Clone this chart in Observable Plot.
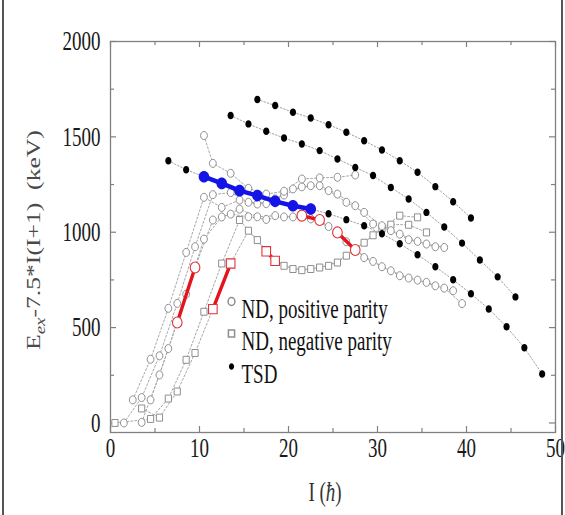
<!DOCTYPE html>
<html><head><meta charset="utf-8">
<script src="https://cdn.jsdelivr.net/npm/d3@7"></script>
<script src="https://cdn.jsdelivr.net/npm/@observablehq/plot@0.6"></script>
<style>
html,body{margin:0;padding:0;background:#fff;}
#wrap{position:relative;width:565px;height:515px;overflow:hidden;background:#fff;}
.edge{position:absolute;top:0;width:2px;height:515px;background:#555;}
</style></head><body>
<div id="wrap"></div>
<script>
// ---------------- data (I in hbar, E in keV) ----------------
const xMajor = [0, 10, 20, 30, 40, 50];
const xMinor = [5, 15, 25, 35, 45];
const yMajor = [0, 500, 1000, 1500, 2000];
const yMinor = [250, 750, 1250, 1750];

// ND positive parity bands (open circles)
const ndPos1 = [[1.5,0],[3.5,133],[5.5,352],[7.5,627],[9.5,924],[11.5,1197],[13.5,1208],[15.5,1157],[17.5,1150],[19.5,1195],[21.5,1238],[23.5,1244],[25.5,1200],[27.5,1139],[29.5,1043],[31.5,1008],[33.5,961],[35.5,938],[37.5,920]];
const ndPos2 = [[2.5,121],[4.5,334],[6.5,601],[8.5,894],[10.5,1183],[12.5,1130],[14.5,1169],[16.5,1148],[18.5,1175],[20.5,1227],[22.5,1244],[24.5,1218],[26.5,1157],[28.5,1104],[30.5,1034],[32.5,990],[34.5,952],[36.5,924]];
const ndPos3 = [[3.5,3],[5.5,252],[7.5,527],[9.5,815],[11.5,1064],[13.5,1095],[15.5,1081],[17.5,1067],[19.5,1080],[21.5,1087],[23.5,1064],[25.5,999],[27.5,907],[29.5,847],[31.5,798],[33.5,760],[35.5,737],[37.5,707],[39.5,626]];
const ndPos4 = [[4.5,121],[6.5,390],[8.5,675],[10.5,964],[12.5,1080],[14.5,1121],[16.5,1081],[18.5,1087],[20.5,1080],[22.5,1070],[24.5,1030],[26.5,950],[28.5,867],[30.5,819],[32.5,772],[34.5,749],[36.5,719],[38.5,693]];
const ndPos5 = [[10.5,1507],[11.5,1361],[13.5,1309],[15.5,1230],[17.5,1200],[19.5,1215],[21.5,1279],[23.5,1285],[25.5,1288],[27.5,1300]];

// ND negative parity bands (open squares)
const ndNeg1 = [[0.5,0],[4.5,21],[6.5,128],[8.5,331],[10.5,583],[12.5,836],[14.5,1064],[16.5,959],[18.5,850],[20.5,807],[22.5,807],[24.5,824],[26.5,877],[28.5,945],[30.5,1020],[32.5,1087],[34.5,1078]];
const ndNeg2 = [[3.5,76],[5.5,28],[7.5,165],[9.5,367],[11.5,597],[13.5,836],[15.5,1008],[17.5,900],[19.5,824],[21.5,801],[23.5,815],[25.5,841],[27.5,911],[29.5,984],[31.5,1040],[33.5,1039],[35.5,999]];

// TSD bands (filled)
const tsd1I = [6.5,8.5,10.5,12.5,14.5,16.5,18.5,20.5,22.5,24.5,26.5,28.5,30.5,32.5,34.5,36.5,38.5,40.5,42.5,44.5,46.5,48.5];
const tsd1E = [1375,1328,1291,1256,1218,1192,1162,1139,1122,1097,1066,1034,992,940,882,819,751,677,598,504,394,257];
const tsd2I = [13.5,15.5,17.5,19.5,21.5,23.5,25.5,27.5,29.5,31.5,33.5,35.5,37.5,39.5,41.5,43.5,45.5];
const tsd2E = [1612,1568,1529,1494,1463,1428,1384,1340,1297,1235,1174,1104,1027,943,854,766,661];
const tsd3I = [16.5,18.5,20.5,22.5,24.5,26.5,28.5,30.5,32.5,34.5,36.5,38.5,40.5];
const tsd3E = [1696,1664,1629,1599,1564,1524,1480,1431,1375,1314,1239,1160,1075];
const blueRange = [10.5, 22.5];   // part of TSD1 drawn in blue

// highlighted ND states (red), consecutive pairs are linked
const redCircles = [[7.5,527],[9.5,815],[21.5,1087],[23.5,1064],[25.5,999],[27.5,907]];
const redSquares = [[11.5,597],[13.5,836],[17.5,900],[18.5,850]];

const legendLabels = ["ND, positive parity", "ND, negative parity", "TSD"];
const yLabelText = "E_ex-7.5*I(I+1) (keV)";
const xLabelText = "I (ħ)";

// ---------------- tables ----------------
const rows = (arr, band) => arr.map(([I, E]) => ({I, E, band}));
const posRows = [ndPos1, ndPos2, ndPos3, ndPos4, ndPos5].flatMap((a, i) => rows(a, "p" + i));
const negRows = [ndNeg1, ndNeg2].flatMap((a, i) => rows(a, "n" + i));
const tsdRows = [[tsd1I, tsd1E], [tsd2I, tsd2E], [tsd3I, tsd3E]]
  .flatMap(([Is, Es], k) => Is.map((I, i) => ({I, E: Es[i], band: "t" + k})));
const blueRows = tsd1I.map((I, i) => ({I, E: tsd1E[i]})).filter(d => d.I >= blueRange[0] && d.I <= blueRange[1]);
const redLinkRows = [...redCircles.map((p, i) => ({I: p[0], E: p[1], pair: "c" + Math.floor(i / 2)})),
                     ...redSquares.map((p, i) => ({I: p[0], E: p[1], pair: "s" + Math.floor(i / 2)}))];

// ---------------- symbols (slightly tall, as in the scan) ----------------
const ell = k => ({draw(ctx, size) {
  const r = Math.sqrt(size / Math.PI), rx = r, ry = r * k, c = 0.5523;
  ctx.moveTo(rx, 0);
  ctx.bezierCurveTo(rx, ry * c, rx * c, ry, 0, ry);
  ctx.bezierCurveTo(-rx * c, ry, -rx, ry * c, -rx, 0);
  ctx.bezierCurveTo(-rx, -ry * c, -rx * c, -ry, 0, -ry);
  ctx.bezierCurveTo(rx * c, -ry, rx, -ry * c, rx, 0);
  ctx.closePath();
}});
const box = k => ({draw(ctx, size) {
  const r = Math.sqrt(size / Math.PI), w = r, h = r * k;
  ctx.moveTo(-w, -h); ctx.lineTo(w, -h); ctx.lineTo(w, h); ctx.lineTo(-w, h); ctx.closePath();
}});

const FONT = "Liberation Serif";
const GRAY = "#8e8e8e";
const FR = "#808080";
const plotW = 445, plotH = 391;

const svg = Plot.plot({
  width: 565, height: 515,
  marginLeft: 110, marginRight: 10, marginTop: 41, marginBottom: 83,
  style: {fontFamily: FONT, background: "white"},
  x: {domain: [0, 50], axis: null},
  y: {domain: [-50, 2000], axis: null},
  marks: [
    // ticks pointing inward on all four sides
    Plot.tickX(xMajor, {x: d => d, insetTop: plotH - 6, stroke: FR, strokeWidth: 1.2}),
    Plot.tickX(xMinor, {x: d => d, insetTop: plotH - 4, stroke: FR, strokeWidth: 1.2}),
    Plot.tickX(xMajor, {x: d => d, insetBottom: plotH - 6, stroke: FR, strokeWidth: 1.2}),
    Plot.tickX(xMinor, {x: d => d, insetBottom: plotH - 4, stroke: FR, strokeWidth: 1.2}),
    Plot.tickY(yMajor, {y: d => d, insetRight: plotW - 6, stroke: FR, strokeWidth: 1.2}),
    Plot.tickY(yMinor, {y: d => d, insetRight: plotW - 4, stroke: FR, strokeWidth: 1.2}),
    Plot.tickY(yMajor, {y: d => d, insetLeft: plotW - 6, stroke: FR, strokeWidth: 1.2}),
    Plot.tickY(yMinor, {y: d => d, insetLeft: plotW - 4, stroke: FR, strokeWidth: 1.2}),
    Plot.frame({stroke: FR, strokeWidth: 1.3}),
    // tick labels
    Plot.text(xMajor, {x: d => d, text: d => String(d), frameAnchor: "bottom", dy: 22, fontSize: 19, fill: "#1a1a1a"}),
    Plot.text(yMajor, {y: d => d, text: d => String(d), frameAnchor: "left", dx: -10, textAnchor: "end", fontSize: 19, fill: "#1a1a1a"}),
    // axis titles
    Plot.text([yLabelText], {text: d => d, frameAnchor: "left", fontSize: 19, fill: "#4a4a4a"}),
    Plot.text([xLabelText], {text: d => d, frameAnchor: "bottom", dx: -8, dy: 66, fontSize: 19, fill: "#333"}),
    // band lines
    Plot.line(posRows, {x: "I", y: "E", z: "band", stroke: "#a8a8a8", strokeWidth: 1, strokeDasharray: "2,2"}),
    Plot.line(negRows, {x: "I", y: "E", z: "band", stroke: "#a8a8a8", strokeWidth: 1, strokeDasharray: "2,2"}),
    Plot.line(tsdRows, {x: "I", y: "E", z: "band", stroke: "#a0a0a0", strokeWidth: 1, strokeDasharray: "1.5,2"}),
    // ND points
    Plot.dot(negRows, {x: "I", y: "E", r: 3.1, symbol: box(1.12), stroke: GRAY, fill: "white", strokeWidth: 1}),
    Plot.dot(posRows, {x: "I", y: "E", r: 3.4, symbol: ell(1.18), stroke: GRAY, fill: "white", strokeWidth: 1}),
    // red highlighted
    Plot.line(redLinkRows, {x: "I", y: "E", z: "pair", stroke: "#e3141c", strokeWidth: 3.4}),
    Plot.dot(redCircles, {x: d => d[0], y: d => d[1], r: 4.8, symbol: ell(1.15), stroke: "#e0323a", fill: "white", strokeWidth: 1.1}),
    Plot.dot(redSquares, {x: d => d[0], y: d => d[1], r: 4.3, symbol: box(1.08), stroke: "#e0323a", fill: "white", strokeWidth: 1.1}),
    // TSD points
    Plot.dot(tsdRows, {x: "I", y: "E", r: 3.1, symbol: ell(1.2), fill: "black", stroke: "none"}),
    Plot.line(blueRows, {x: "I", y: "E", stroke: "#1414e6", strokeWidth: 4.5}),
    Plot.dot(blueRows, {x: "I", y: "E", r: 5.3, symbol: ell(1.1), fill: "#1414e6", stroke: "none"}),
    // legend
    Plot.dot([0], {frameAnchor: "top-left", dx: 121, dy: 260, r: 3.4, symbol: ell(1.18), stroke: GRAY, fill: "white"}),
    Plot.dot([0], {frameAnchor: "top-left", dx: 121, dy: 292, r: 3.1, symbol: box(1.12), stroke: GRAY, fill: "white"}),
    Plot.dot([0], {frameAnchor: "top-left", dx: 121, dy: 325, r: 2.6, symbol: ell(1.25), fill: "black"}),
    Plot.text([legendLabels[0]], {text: d => d, frameAnchor: "top-left", dx: 131, dy: 260, textAnchor: "start", fontSize: 19, fill: "#111"}),
    Plot.text([legendLabels[1]], {text: d => d, frameAnchor: "top-left", dx: 131, dy: 292, textAnchor: "start", fontSize: 19, fill: "#111"}),
    Plot.text([legendLabels[2]], {text: d => d, frameAnchor: "top-left", dx: 131, dy: 325, textAnchor: "start", fontSize: 19, fill: "#111"})
  ]
});

const wrap = document.getElementById("wrap");
wrap.appendChild(svg);
["2px", "561px"].forEach(l => { const e = document.createElement("div"); e.className = "edge"; e.style.left = l; wrap.appendChild(e); });

// the scanned figure is stretched vertically: stretch glyphs the same way
const S = 1.4;
svg.querySelectorAll("text").forEach(t => {
  if (t.textContent === yLabelText) {
    // rotated title with subscript, spanning y 130..350 beside the frame
    t.innerHTML = 'E<tspan dy="5" font-size="14" font-style="italic">ex</tspan><tspan dy="-5">-7.5*I(I+1)\u00a0\u00a0(keV)</tspan>';
    ["x", "y", "dx", "dy"].forEach(a => t.removeAttribute(a));
    const g = t.parentNode;
    if (g && g.removeAttribute) { g.removeAttribute("transform"); g.setAttribute("text-anchor", "start"); }
    t.setAttribute("text-anchor", "start");
    t.setAttribute("dy", "0.35em");
    t.setAttribute("transform", "translate(33,350) rotate(-90)");
    const svgTop = svg.getBoundingClientRect().top;
    const r0 = t.getBoundingClientRect();          // rendered extent at scale 1
    const s = 220 / r0.height;
    t.setAttribute("transform", `translate(33,350) rotate(-90) scale(${s},1)`);
    const r1 = t.getBoundingClientRect();
    const shift = 350 - (r1.bottom - svgTop);       // put the first glyph at y = 350
    t.setAttribute("transform", `translate(33,${350 + shift}) rotate(-90) scale(${s},1)`);
    return;
  }
  if (t.textContent === xLabelText) {
    t.innerHTML = 'I (<tspan font-style="italic">ħ</tspan>)';
  }
  const b = t.getBBox();
  const cx = b.x + b.width / 2, cy = b.y + b.height / 2;
  const tr = t.getAttribute("transform") || "";
  t.setAttribute("transform", `${tr} translate(${cx},${cy}) scale(1,${S}) translate(${-cx},${-cy})`);
});
</script>
</body></html>
